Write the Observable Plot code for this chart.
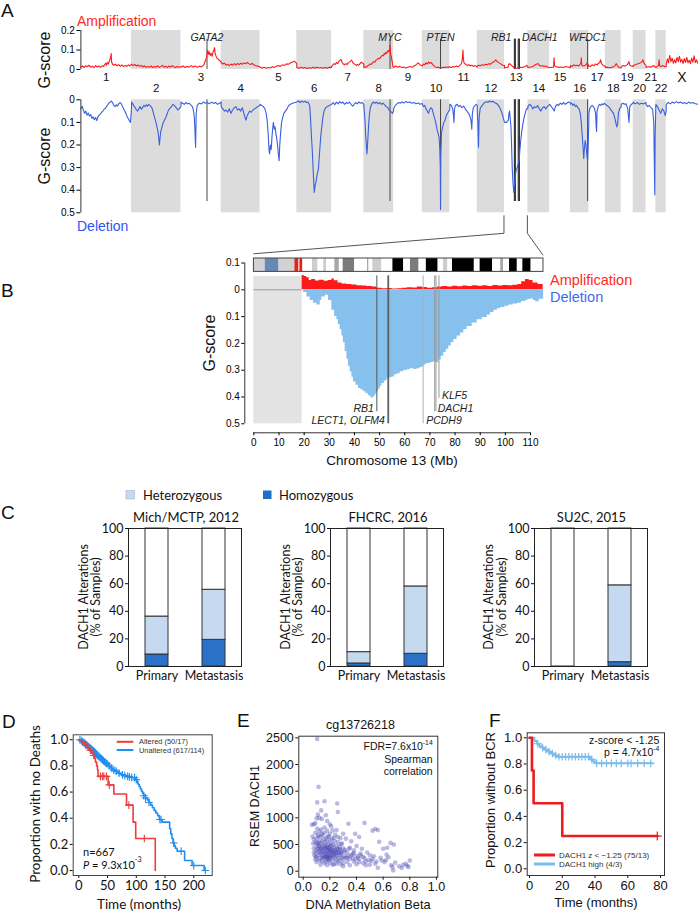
<!DOCTYPE html>
<html><head><meta charset="utf-8">
<script src="https://cdn.jsdelivr.net/npm/d3@7"></script>
<script src="https://cdn.jsdelivr.net/npm/@observablehq/plot@0.6"></script>
<style>
html,body{margin:0;padding:0;background:#fff;}
#fig{position:relative;width:698px;height:911px;overflow:hidden;background:#fff;}
</style></head><body><div id="fig"></div>
<script>
// ================= DATA =================
const chromNames = ["1","2","3","4","5","6","7","8","9","10","11","12","13","14","15","16","17","18","19","20","21","22","X"];
const chromLengths = [249.3,243.2,198.0,191.2,180.9,171.1,159.1,146.4,141.2,135.5,135.0,133.9,115.2,107.3,102.5,90.4,81.2,78.1,59.1,63.0,48.1,51.3,155.3];

// [chromosome, position within chromosome (Mb), G-score]
const ampPoints = [
["1",0,.012],["1",8,.018],["1",16,.01],["1",24,.02],["1",32,.014],["1",40,.022],["1",48,.012],["1",56,.017],["1",64,.01],["1",72,.02],["1",80,.013],["1",88,.018],["1",96,.011],["1",104,.019],["1",112,.016],["1",118,.026],["1",122,.032],["1",126,.022],["1",130,.036],["1",135,.028],["1",140,.042],["1",144,.055],["1",147,.07],["1",149,.082],["1",151,.04],["1",155,.028],["1",162,.022],["1",170,.027],["1",178,.019],["1",186,.025],["1",194,.016],["1",202,.024],["1",210,.015],["1",218,.021],["1",226,.017],["1",234,.023],["1",242,.018],["1",249,.026],
["2",0,.028],["2",8,.02],["2",16,.026],["2",24,.018],["2",32,.023],["2",40,.016],["2",48,.021],["2",56,.013],["2",64,.019],["2",72,.011],["2",80,.016],["2",88,.012],["2",96,.018],["2",104,.01],["2",112,.015],["2",120,.012],["2",128,.019],["2",136,.011],["2",144,.016],["2",152,.021],["2",160,.012],["2",168,.017],["2",176,.01],["2",184,.018],["2",192,.012],["2",200,.02],["2",208,.014],["2",216,.01],["2",224,.016],["2",232,.012],["2",243,.015],
["3",0,.012],["3",10,.018],["3",20,.01],["3",30,.016],["3",40,.012],["3",50,.02],["3",60,.013],["3",70,.018],["3",80,.011],["3",90,.017],["3",100,.013],["3",108,.02],["3",114,.026],["3",118,.04],["3",122,.05],["3",126,.062],["3",129,.085],["3",132,.1],["3",136,.078],["3",140,.09],["3",144,.072],["3",149,.082],["3",154,.068],["3",158,.09],["3",162,.1],["3",165,.112],["3",168,.085],["3",172,.07],["3",176,.06],["3",181,.055],["3",186,.05],["3",191,.045],["3",198,.04],
["4",0,.036],["4",8,.028],["4",16,.033],["4",24,.022],["4",32,.027],["4",40,.02],["4",48,.028],["4",56,.022],["4",64,.03],["4",72,.024],["4",80,.031],["4",88,.025],["4",96,.032],["4",104,.027],["4",112,.034],["4",120,.029],["4",128,.036],["4",136,.03],["4",144,.025],["4",152,.032],["4",160,.024],["4",168,.02],["4",176,.018],["4",184,.016],["4",191,.014],
["5",0,.012],["5",10,.007],["5",20,.011],["5",30,.006],["5",40,.01],["5",50,.008],["5",60,.014],["5",70,.011],["5",80,.017],["5",90,.02],["5",100,.016],["5",110,.024],["5",120,.021],["5",130,.029],["5",140,.027],["5",150,.034],["5",160,.038],["5",168,.042],["5",175,.037],["5",181,.03],
["6",0,.01],["6",10,.006],["6",20,.012],["6",30,.007],["6",40,.01],["6",50,.005],["6",60,.009],["6",70,.006],["6",80,.011],["6",90,.007],["6",100,.012],["6",110,.008],["6",120,.01],["6",130,.006],["6",140,.01],["6",150,.007],["6",160,.012],["6",171,.01],
["7",0,.015],["7",6,.022],["7",12,.03],["7",18,.026],["7",24,.036],["7",30,.03],["7",36,.042],["7",42,.048],["7",47,.052],["7",52,.036],["7",58,.028],["7",64,.024],["7",70,.03],["7",76,.026],["7",82,.034],["7",88,.038],["7",94,.044],["7",99,.048],["7",104,.036],["7",110,.03],["7",116,.026],["7",122,.02],["7",128,.026],["7",134,.022],["7",140,.03],["7",146,.038],["7",152,.032],["7",159,.028],
["8",0,.01],["8",6,.014],["8",12,.012],["8",18,.018],["8",24,.022],["8",30,.028],["8",36,.026],["8",42,.034],["8",48,.04],["8",54,.038],["8",60,.048],["8",66,.052],["8",72,.058],["8",78,.055],["8",84,.066],["8",90,.072],["8",96,.07],["8",100,.082],["8",104,.078],["8",108,.088],["8",112,.083],["8",116,.092],["8",120,.098],["8",124,.09],["8",127,.1],["8",128.7,.125],["8",130.5,.09],["8",133,.075],["8",136,.06],["8",140,.035],["8",143,.015],["8",146,.01],
["9",0,.01],["9",10,.018],["9",20,.012],["9",30,.016],["9",40,.01],["9",50,.013],["9",60,.008],["9",70,.012],["9",80,.015],["9",90,.011],["9",100,.018],["9",108,.022],["9",114,.028],["9",120,.034],["9",125,.03],["9",130,.025],["9",136,.02],["9",141,.018],
["10",0,.02],["10",6,.028],["10",12,.024],["10",18,.034],["10",24,.028],["10",30,.038],["10",36,.032],["10",42,.036],["10",48,.03],["10",54,.022],["10",60,.016],["10",66,.012],["10",72,.01],["10",78,.013],["10",84,.008],["10",90,.011],["10",96,.009],["10",104,.012],["10",112,.01],["10",120,.013],["10",128,.011],["10",135,.015],
["11",0,.012],["11",8,.01],["11",16,.015],["11",24,.012],["11",32,.018],["11",40,.014],["11",48,.02],["11",54,.026],["11",58,.032],["11",62,.06],["11",64.5,.1],["11",67,.05],["11",70,.034],["11",76,.028],["11",82,.024],["11",88,.02],["11",94,.025],["11",100,.018],["11",108,.022],["11",116,.016],["11",124,.02],["11",135,.013],
["12",0,.018],["12",8,.022],["12",16,.019],["12",24,.025],["12",32,.021],["12",40,.027],["12",48,.024],["12",56,.03],["12",64,.027],["12",72,.034],["12",80,.038],["12",86,.044],["12",91,.05],["12",96,.042],["12",102,.038],["12",108,.034],["12",114,.03],["12",120,.026],["12",126,.022],["12",134,.02],
["13",0,.008],["13",18,.012],["13",20,.025],["13",24,.03],["13",30,.026],["13",36,.02],["13",42,.014],["13",48,.008],["13",54,.005],["13",60,.006],["13",66,.009],["13",72,.008],["13",80,.011],["13",88,.01],["13",96,.013],["13",104,.015],["13",108,.022],["13",112,.018],["13",115,.014],
["14",0,.01],["14",20,.014],["14",28,.018],["14",36,.024],["14",44,.028],["14",50,.03],["14",56,.022],["14",64,.017],["14",72,.02],["14",80,.015],["14",88,.018],["14",96,.013],["14",107,.01],
["15",0,.01],["15",19,.012],["15",21.5,.06],["15",24,.02],["15",32,.014],["15",44,.011],["15",56,.013],["15",68,.01],["15",80,.015],["15",92,.012],["15",102,.01],
["16",0,.02],["16",8,.016],["16",16,.024],["16",24,.019],["16",32,.022],["16",40,.018],["16",47,.026],["16",51,.032],["16",53,.06],["16",55.5,.022],["16",62,.018],["16",70,.02],["16",77,.024],["16",82,.034],["16",85,.028],["16",90,.015],
["17",0,.02],["17",8,.015],["17",16,.024],["17",24,.019],["17",32,.028],["17",40,.024],["17",48,.032],["17",54,.036],["17",58,.05],["17",61,.034],["17",66,.026],["17",72,.02],["17",78,.017],["17",81,.015],
["18",0,.01],["18",10,.012],["18",20,.009],["18",30,.011],["18",40,.014],["18",48,.02],["18",54,.03],["18",58,.022],["18",64,.013],["18",70,.01],["18",78,.008],
["19",0,.015],["19",10,.02],["19",20,.018],["19",30,.025],["19",38,.04],["19",42,.022],["19",50,.018],["19",59,.015],
["20",0,.02],["20",10,.024],["20",20,.028],["20",30,.032],["20",38,.036],["20",44,.042],["20",48,.05],["20",52,.034],["20",58,.026],["20",63,.02],
["21",0,.01],["21",10,.014],["21",20,.012],["21",30,.016],["21",38,.02],["21",44,.014],["21",48,.012],
["22",0,.01],["22",8,.016],["22",13,.022],["22",16,.05],["22",19,.018],["22",26,.016],["22",34,.02],["22",42,.016],["22",51,.014],
["X",0,.03],["X",6,.055],["X",11,.035],["X",17,.072],["X",23,.04],["X",29,.058],["X",35,.032],["X",41,.05],["X",47,.034],["X",53,.062],["X",59,.04],["X",65,.068],["X",71,.038],["X",77,.052],["X",83,.03],["X",89,.056],["X",95,.036],["X",101,.062],["X",107,.034],["X",113,.048],["X",119,.03],["X",125,.058],["X",131,.038],["X",137,.07],["X",143,.036],["X",149,.05],["X",155,.032]
];

const delPoints = [
["1",0,.04],["1",6,.028],["1",12,.045],["1",18,.06],["1",24,.05],["1",30,.068],["1",36,.058],["1",42,.072],["1",48,.065],["1",54,.082],["1",60,.075],["1",66,.088],["1",72,.078],["1",78,.092],["1",84,.074],["1",90,.068],["1",96,.062],["1",102,.055],["1",108,.05],["1",114,.042],["1",120,.038],["1",126,.03],["1",132,.022],["1",138,.015],["1",144,.01],["1",150,.006],["1",156,.012],["1",162,.025],["1",168,.03],["1",174,.022],["1",180,.028],["1",186,.018],["1",192,.012],["1",198,.016],["1",204,.028],["1",210,.04],["1",216,.05],["1",222,.062],["1",228,.075],["1",234,.085],["1",240,.095],["1",244,.1],["1",249,.04],
["2",0,.01],["2",6,.018],["2",12,.028],["2",18,.035],["2",24,.045],["2",30,.05],["2",36,.04],["2",42,.03],["2",48,.042],["2",54,.035],["2",60,.025],["2",66,.03],["2",72,.022],["2",78,.028],["2",84,.02],["2",90,.025],["2",96,.03],["2",102,.04],["2",108,.06],["2",114,.08],["2",120,.1],["2",125,.12],["2",130,.14],["2",134,.17],["2",137,.2],["2",140,.17],["2",144,.14],["2",150,.12],["2",156,.1],["2",162,.09],["2",168,.08],["2",174,.065],["2",180,.05],["2",186,.04],["2",192,.035],["2",198,.028],["2",204,.02],["2",210,.025],["2",216,.03],["2",222,.038],["2",228,.045],["2",234,.04],["2",243,.03],
["3",0,.01],["3",8,.015],["3",16,.02],["3",24,.012],["3",32,.018],["3",40,.015],["3",48,.022],["3",56,.03],["3",62,.05],["3",66,.08],["3",69,.14],["3",72,.21],["3",75,.06],["3",80,.025],["3",90,.015],["3",100,.018],["3",110,.01],["3",120,.015],["3",130,.012],["3",140,.018],["3",150,.01],["3",160,.016],["3",170,.012],["3",180,.02],["3",190,.015],["3",198,.01],
["4",0,.03],["4",8,.04],["4",16,.05],["4",24,.045],["4",32,.055],["4",40,.04],["4",48,.06],["4",56,.045],["4",64,.035],["4",72,.03],["4",80,.045],["4",88,.04],["4",96,.05],["4",104,.035],["4",110,.055],["4",116,.075],["4",122,.09],["4",128,.07],["4",134,.06],["4",140,.05],["4",148,.055],["4",156,.045],["4",164,.04],["4",172,.035],["4",180,.03],["4",191,.025],
["5",0,.02],["5",8,.025],["5",16,.03],["5",24,.04],["5",30,.06],["5",35,.09],["5",40,.15],["5",44,.22],["5",47,.24],["5",51,.2],["5",55,.22],["5",59,.16],["5",63,.12],["5",66,.1],["5",70,.13],["5",74,.12],["5",78,.15],["5",82,.17],["5",86,.2],["5",90,.24],["5",94,.27],["5",97,.2],["5",101,.15],["5",106,.1],["5",111,.08],["5",117,.06],["5",125,.05],["5",133,.04],["5",141,.025],["5",150,.02],["5",160,.015],["5",170,.012],["5",181,.01],
["6",0,.01],["6",8,.005],["6",16,.012],["6",24,.006],["6",32,.01],["6",40,.006],["6",48,.012],["6",54,.01],["6",60,.018],["6",64,.03],["6",68,.09],["6",72,.16],["6",76,.22],["6",79,.28],["6",82,.34],["6",86,.41],["6",90,.38],["6",95,.36],["6",100,.33],["6",106,.31],["6",110,.26],["6",114,.21],["6",118,.16],["6",123,.12],["6",128,.08],["6",134,.05],["6",142,.035],["6",150,.03],["6",160,.025],["6",171,.02],
["7",0,.02],["7",8,.012],["7",16,.022],["7",24,.01],["7",32,.018],["7",40,.008],["7",48,.015],["7",56,.01],["7",64,.02],["7",72,.012],["7",80,.016],["7",88,.01],["7",96,.02],["7",104,.028],["7",110,.022],["7",118,.012],["7",126,.018],["7",134,.01],["7",142,.015],["7",150,.012],["7",159,.02],
["8",0,.03],["8",3,.06],["8",6,.1],["8",9,.16],["8",12,.2],["8",15,.24],["8",18,.2],["8",21,.15],["8",24,.1],["8",28,.06],["8",32,.035],["8",38,.02],["8",46,.01],["8",54,.015],["8",62,.01],["8",70,.018],["8",78,.012],["8",86,.02],["8",94,.015],["8",102,.022],["8",110,.03],["8",118,.035],["8",124,.045],["8",130,.05],["8",136,.055],["8",141,.06],["8",146,.05],
["9",0,.04],["9",8,.025],["9",16,.018],["9",24,.012],["9",32,.015],["9",40,.01],["9",50,.014],["9",60,.008],["9",70,.012],["9",80,.01],["9",90,.015],["9",100,.012],["9",110,.018],["9",120,.014],["9",130,.02],["9",141,.016],
["10",0,.02],["10",6,.03],["10",12,.025],["10",18,.04],["10",24,.05],["10",30,.06],["10",36,.045],["10",42,.035],["10",48,.04],["10",54,.06],["10",60,.08],["10",66,.1],["10",72,.13],["10",78,.15],["10",83,.17],["10",86,.22],["10",88.5,.3],["10",89.7,.485],["10",91,.25],["10",94,.15],["10",100,.12],["10",106,.1],["10",112,.09],["10",118,.07],["10",124,.06],["10",130,.05],["10",135,.045],
["11",0,.02],["11",8,.025],["11",14,.04],["11",18,.07],["11",20,.1],["11",23,.04],["11",28,.025],["11",36,.02],["11",44,.03],["11",52,.025],["11",60,.035],["11",68,.028],["11",76,.04],["11",84,.05],["11",92,.06],["11",98,.07],["11",104,.09],["11",108,.13],["11",111,.06],["11",116,.035],["11",124,.025],["11",130,.02],["11",135,.025],
["12",0,.05],["12",3,.1],["12",6,.21],["12",9,.08],["12",14,.04],["12",20,.03],["12",28,.02],["12",36,.012],["12",44,.008],["12",52,.012],["12",60,.005],["12",68,.01],["12",76,.006],["12",84,.012],["12",92,.015],["12",100,.02],["12",108,.03],["12",116,.045],["12",122,.06],["12",128,.08],["12",134,.1],
["13",0,.1],["13",10,.1],["13",19,.09],["13",22,.06],["13",25,.05],["13",28,.08],["13",32,.12],["13",35,.2],["13",38,.3],["13",42,.37],["13",46,.41],["13",50,.37],["13",54,.33],["13",58,.31],["13",63,.3],["13",68,.28],["13",72,.27],["13",76,.22],["13",80,.18],["13",85,.14],["13",90,.11],["13",96,.08],["13",102,.06],["13",108,.04],["13",115,.04],
["14",0,.03],["14",8,.02],["14",16,.025],["14",24,.04],["14",32,.03],["14",40,.035],["14",48,.025],["14",56,.04],["14",64,.05],["14",72,.035],["14",80,.03],["14",88,.04],["14",96,.03],["14",107,.02],
["15",0,.02],["15",8,.03],["15",16,.04],["15",22,.05],["15",28,.03],["15",36,.02],["15",44,.025],["15",52,.015],["15",60,.02],["15",68,.012],["15",76,.02],["15",84,.015],["15",92,.01],["15",102,.012],
["16",0,.02],["16",6,.015],["16",12,.025],["16",18,.018],["16",24,.03],["16",30,.025],["16",36,.035],["16",42,.04],["16",48,.06],["16",53,.1],["16",57,.15],["16",61,.2],["16",65,.26],["16",68,.22],["16",72,.18],["16",76,.2],["16",80,.24],["16",84,.27],["16",87,.2],["16",90,.1],
["17",0,.06],["17",4,.04],["17",10,.03],["17",16,.025],["17",22,.03],["17",28,.04],["17",33,.06],["17",36,.12],["17",38,.14],["17",40,.05],["17",46,.03],["17",52,.02],["17",58,.025],["17",64,.018],["17",70,.022],["17",76,.015],["17",81,.02],
["18",0,.02],["18",8,.025],["18",16,.03],["18",24,.04],["18",32,.05],["18",40,.06],["18",46,.08],["18",51,.1],["18",56,.12],["18",60,.11],["18",64,.06],["18",70,.04],["18",78,.03],
["19",0,.02],["19",8,.015],["19",16,.02],["19",24,.018],["19",32,.04],["19",38,.1],["19",42,.03],["19",50,.02],["19",59,.015],
["20",0,.01],["20",10,.018],["20",20,.012],["20",30,.02],["20",40,.015],["20",50,.018],["20",63,.012],
["21",0,.02],["21",8,.03],["21",16,.025],["21",24,.035],["21",32,.04],["21",38,.1],["21",41,.3],["21",43,.42],["21",45,.15],["21",48,.03],
["22",0,.02],["22",8,.03],["22",16,.045],["22",24,.06],["22",32,.04],["22",40,.05],["22",46,.07],["22",51,.05],
["X",0,.02],["X",10,.012],["X",20,.018],["X",30,.01],["X",40,.015],["X",50,.008],["X",60,.014],["X",70,.01],["X",80,.016],["X",90,.012],["X",100,.018],["X",110,.01],["X",120,.015],["X",130,.012],["X",140,.016],["X",155,.02]
];

// Marked genes, panel A
const aGeneNames = ["GATA2","MYC","PTEN","RB1","DACH1","WFDC1"];
const aGeneChrom = ["3","8","10","13","13","16"];
const aGenePos = [128.2,128.7,89.6,48.9,71.9,84.3];

// Panel B: chromosome 13
const bAmpPos = [19.2,20,21,22,23,24.5,26,28,29.5,31,32,33.5,35,37,39,41,43,45,47,49,51,53,55,57,59,61,63,65,67,69,71,73,75,77,79,81,83,85,87,89,91,93,95,97,99,101,103,105,106.5,108,109.5,111,113,115];
const bAmpG =   [.053,.05,.045,.035,.038,.033,.036,.032,.035,.04,.034,.025,.022,.02,.018,.015,.014,.012,.01,.006,.004,.005,.003,.004,.006,.008,.007,.01,.009,.006,.008,.01,.012,.01,.013,.011,.014,.012,.015,.013,.015,.012,.016,.014,.016,.015,.017,.02,.03,.038,.035,.025,.02,.018];
const bDelPos = [19.2,19.8,21.1,22.4,23.7,25.1,26.4,27.0,28.4,29.7,31.0,32.1,33.0,33.6,34.3,35.0,35.6,36.3,37.0,37.6,38.3,39.0,39.6,40.6,41.6,42.6,43.6,44.6,45.6,46.3,46.9,47.6,48.3,49.0,49.6,50.3,50.9,51.9,52.9,53.9,54.9,55.9,56.9,58.2,59.6,60.9,62.2,63.6,64.9,66.1,67.3,68.1,68.9,70.3,71.6,72.5,73.5,74.5,75.5,76.5,77.5,78.5,79.5,80.8,82.2,83.5,84.8,86.8,88.8,90.8,92.8,94.1,95.5,96.8,98.1,99.8,101.4,103.1,104.8,106.4,108.1,109.1,110.1,111.1,112.1,113.5,115.2];
const bDelG =   [0,.01,.027,.04,.05,.057,.04,.027,.02,.04,.076,.1,.112,.13,.149,.172,.198,.23,.259,.285,.307,.326,.344,.356,.368,.374,.38,.388,.395,.4,.405,.398,.39,.38,.37,.36,.35,.34,.332,.328,.325,.318,.313,.306,.301,.298,.295,.297,.295,.29,.283,.278,.275,.271,.268,.272,.262,.248,.234,.222,.21,.197,.185,.172,.161,.148,.137,.124,.112,.103,.094,.085,.076,.071,.066,.061,.057,.053,.05,.044,.039,.036,.033,.04,.045,.035,.04];
const bUnassessed = [0, 19.2];
const bGeneNames = ["RB1","LECT1, OLFM4","PCDH9","DACH1","KLF5"];
const bGenePos = [48.9,53.3,67.3,71.9,73.6];
const bGeneDepth = [0.455,0.5,0.5,0.455,0.405];
const bExtraLinePos = [53.6,72.4];     // OLFM4, second DACH1 line
const bExtraLineDepth = [0.5,0.455];
// chr13 cytobands (Mb)
const bandStart = [0,4.5,10,16.3,17.9,19.5,23.3,25.5,27.8,28.9,32.2,34,35.5,40.1,45.2,45.8,47.3,50.9,55.3,59.6,62.3,65.7,68.6,73.3,75.4,77.2,79,87.7,90,95,98.2,99.3,101.7,104.8,107,110.3];
const bandEnd =   [4.5,10,16.3,17.9,19.5,23.3,25.5,27.8,28.9,32.2,34,35.5,40.1,45.2,45.8,47.3,50.9,55.3,59.6,62.3,65.7,68.6,73.3,75.4,77.2,79,87.7,90,95,98.2,99.3,101.7,104.8,107,110.3,115.2];
const bandStain = ["gvar","stalk","gvar","acen","acen","gneg","gpos25","gneg","gpos25","gneg","gpos50","gneg","gpos75","gneg","gpos50","gneg","gpos25","gneg","gpos100","gneg","gpos75","gneg","gpos100","gneg","gpos25","gneg","gpos100","gneg","gpos100","gneg","gpos50","gneg","gpos100","gneg","gpos100","gneg"];

// Panel C
const cStudies = ["Mich/MCTP, 2012","FHCRC, 2016","SU2C, 2015"];
const cGroups = ["Primary","Metastasis"];
const cHomozygous = [[8.7,19.3],[2.2,9.2],[0,3.1]];
const cAnyLoss = [[36.2,55.6],[10.4,58.0],[0,58.8]];
const cParts = ["Homozygous","Heterozygous","Not altered"];

// Panel D: Kaplan-Meier, overall survival
const dAltTime = [0,5,10,15,18,22,25,27,29,31,32.5,33.5,51,61,83,94.5,99,133];
const dAltSurv = [1,.98,.96,.94,.92,.9,.88,.86,.83,.8,.77,.72,.655,.585,.5,.37,.245,0];
const dAltCensor = [12,20,26,37.7,41,43.5,48,53,87,114];
const dUnaltTime = [0,3,6,8,10,12,14,16,18,20,22,24,26,28,30,32,34,36,38,40,42,44,46,48,50,52,54,56,58,60,63,66,69,72,75,78,82,86,90,96,99,101,103,105,107,109,111,113,116,119,122,125,128,131,134,137,140,145,158,160,162,164,166,168,171,184,197,218];
const dUnaltSurv = [1,.993,.985,.978,.97,.962,.955,.947,.94,.932,.924,.916,.907,.898,.889,.88,.872,.864,.856,.848,.84,.832,.824,.816,.808,.8,.792,.784,.776,.768,.76,.752,.745,.738,.732,.726,.72,.716,.712,.71,.695,.678,.66,.643,.625,.607,.59,.572,.555,.54,.52,.5,.48,.46,.44,.42,.39,.37,.32,.28,.245,.21,.19,.17,.148,.077,.038,0];
const dUnaltCensor = [2,5,7,9,11,13,15,17,19,21,23,25,27,29,31,33,35,37,39,41,43,45,47,49,53,57,61,65,70,76,80,85,88,92,97,100,113,116,122,141,143,165,178,200,220];

// Panel E: methylation vs expression
const eBeta = [0.105,0.115,0.105,0.16,0.255,0.26,0.135,0.12,0.1,0.14,0.11,0.17,0.08,0.065,0.09,0.18,0.2,0.34,0.46,0.54,0.52,0.56,0.39,0.42,0.655,0.68,0.63,0.57,0.6,0.625,0.59,0.56,0.67,0.675,0.75,0.79,0.8,0.77,0.61,0.5,0.52,0.48,0.45,0.44,0.47,0.43,0.4,0.38,0.41,0.36,0.37,0.35,0.33,0.32,0.31,0.3,0.29,0.3,
0.07,0.075,0.08,0.08,0.085,0.09,0.09,0.095,0.1,0.1,0.1,0.105,0.105,0.11,0.11,0.11,0.115,0.12,0.12,0.12,0.125,0.125,0.13,0.13,0.13,0.135,0.135,0.14,0.14,0.14,0.145,0.145,0.15,0.15,0.15,0.155,0.155,0.16,0.16,0.16,0.165,0.165,0.17,0.17,0.17,0.175,0.175,0.18,0.18,0.18,0.185,0.185,0.19,0.19,0.19,0.195,0.195,0.2,0.2,0.2,0.205,0.205,0.21,0.21,0.215,0.215,0.22,0.22,0.225,0.225,0.23,0.23,0.235,0.235,0.24,0.24,0.245,0.25,0.25,0.255,0.26,0.26,0.265,0.27,0.27,0.275,0.28,0.28,0.285,0.29,0.29,0.3,0.3,0.31,0.315,0.32,0.33,0.34,0.345,0.35,0.36,0.37,0.38,0.39,0.4,0.42,0.43,0.46,0.49,0.53,0.55,0.58,0.62,0.64,0.66,0.69,0.72,0.74,0.78,0.5,0.45,0.4,0.35,0.3,0.28,0.25,0.22,0.2,0.18,0.16,0.14,0.12,0.1,0.09,0.13,0.17,0.23,0.26,0.33,0.38,0.42,0.47,0.51,0.54,
0.08,0.095,0.115,0.14,0.16,0.18,0.2,0.22,0.24,0.26,0.28,0.25,0.21,0.23,0.185,0.165,0.175,0.195,0.205,0.215,0.225,0.235,0.245,0.255,0.265,0.275,0.285,0.155,0.145,0.135,0.125,0.115,0.105,0.19,0.2,0.17,0.18,0.21,0.19];
const eRsem = [2480,1580,1290,1310,1270,1110,1140,1000,990,980,1060,1050,880,870,900,940,880,890,905,790,760,770,700,640,530,500,440,550,420,310,200,65,80,15,120,80,200,140,170,300,230,350,270,420,180,330,470,390,250,560,320,440,250,610,370,700,520,150,
650,520,600,430,300,720,540,380,460,610,250,800,350,520,680,420,300,560,750,380,470,240,640,330,520,410,780,290,560,450,360,680,500,250,420,600,330,470,380,720,280,540,430,350,620,220,480,390,300,560,450,260,660,340,500,410,200,580,300,450,370,240,520,330,430,610,280,390,500,200,340,450,260,560,410,310,220,480,360,290,420,550,250,340,460,200,390,300,510,250,360,430,230,290,400,250,350,290,420,230,300,250,340,220,290,230,300,240,210,280,180,250,210,260,110,160,90,60,100,120,150,130,110,90,130,140,120,160,110,150,180,200,170,220,120,180,130,180,170,180,170,110,190,140,
350,280,650,700,820,760,700,760,680,640,620,770,840,620,640,430,330,280,480,370,310,380,330,400,350,420,330,270,240,350,420,470,530,420,380,270,240,260,230];

// Panel F: Kaplan-Meier, BCR-free survival
const fLowTime = [0,1.5,2.5,20,78];
const fLowSurv = [1,.75,.5,.25,.25];
const fLowCensor = [78];
const fHighTime = [0,1.6,3,4.5,6,7.5,9,11,13,15,17,37,38.5,40,75];
const fHighSurv = [1,1,.975,.955,.94,.925,.91,.895,.88,.865,.855,.835,.82,.805,.805];
const fHighCensor = [5,8,10,12,14,16,18,20,22,24,26,28,30,32,34,36,38,41,44,47,50,53,56,60,62,66,70,74];

// ================= BUILD =================
const fig = document.getElementById("fig");
const SANS = "'Liberation Sans', Arial, Helvetica, sans-serif";
const LATO = "Lato, 'Open Sans', sans-serif";
function place(el, left, top) {
  el.style.position = "absolute"; el.style.left = left + "px"; el.style.top = top + "px";
  el.style.maxWidth = "none"; el.style.overflow = "visible"; el.style.background = "transparent";
  fig.appendChild(el); return el;
}
const fmt1 = d => d === 0 ? "0" : d3.format(".1f")(Math.abs(d));

// genome coordinates
const chromStart = {}; let acc = 0;
chromNames.forEach((n, i) => { chromStart[n] = acc; acc += chromLengths[i]; });
const genomeLength = acc;
const chroms = chromNames.map((n, i) => ({name: n, start: chromStart[n], end: chromStart[n] + chromLengths[i], mid: chromStart[n] + chromLengths[i] / 2, idx: i}));
const shaded = chroms.filter(d => d.idx % 2 === 1);
const ampSeries = ampPoints.map(([c, p, v]) => ({g: chromStart[c] + p, v}));
const delSeries = delPoints.map(([c, p, v]) => ({g: chromStart[c] + p, v}));
const aGenes = aGeneNames.map((n, i) => ({name: n, g: chromStart[aGeneChrom[i]] + aGenePos[i]}));
const aLines = aGenes.map(d => d.g).concat(bGenePos.concat(bExtraLinePos).map(p => chromStart["13"] + p));

// ---- Panel A: amplification ----
const ampTop = 0;
const ampPlot = Plot.plot({
  width: 698, height: 100, marginLeft: 80.4, marginRight: 0.7, marginTop: 30, marginBottom: 31,
  x: {domain: [0, genomeLength], axis: null},
  y: {domain: [0, 0.2], axis: null},
  style: {fontFamily: SANS, fontSize: "10px", background: "transparent", overflow: "visible"},
  marks: [
    Plot.rect(shaded, {x1: "start", x2: "end", y1: 0, y2: 0.2, fill: "#dcdcdc"}),
    Plot.ruleX(aLines, {x: d => d, y1: 0, y2: 0.155, stroke: "#333", strokeWidth: 0.9}),
    Plot.line(ampSeries, {x: "g", y: "v", stroke: "#ff1a1a", strokeWidth: 1.1}),
    Plot.ruleX([0], {y1: 0, y2: 0.2, stroke: "#333"}),
    Plot.axisY({anchor: "left", ticks: [0, 0.1, 0.2], tickFormat: fmt1, tickSize: 4, tickPadding: 2, label: null, fontSize: 10}),
    Plot.text(aGenes.filter(d => d.name !== "RB1" && d.name !== "DACH1"), {x: "g", text: "name", frameAnchor: "top", dy: 3.5, fontStyle: "italic", fontSize: 10.5, fill: "#222"}),
    Plot.text(aGenes.filter(d => d.name === "RB1"), {x: "g", text: "name", frameAnchor: "top", dy: 3.5, dx: -3, textAnchor: "end", fontStyle: "italic", fontSize: 10.5, fill: "#222"}),
    Plot.text(aGenes.filter(d => d.name === "DACH1"), {x: "g", text: "name", frameAnchor: "top", dy: 3.5, dx: 3, textAnchor: "start", fontStyle: "italic", fontSize: 10.5, fill: "#222"}),
    Plot.text(chroms.filter(d => d.idx % 2 === 0 && d.name !== "X"), {x: "mid", text: "name", frameAnchor: "bottom", dy: 11, fontSize: 11.5, fill: "#111"}),
    Plot.text(chroms.filter(d => d.idx % 2 === 1), {x: "mid", text: "name", frameAnchor: "bottom", dy: 22, fontSize: 11.5, fill: "#111"}),
    Plot.text(chroms.filter(d => d.name === "X"), {x: "mid", text: "name", frameAnchor: "bottom", dy: 12, fontSize: 14, fill: "#111"})
  ]
});
place(ampPlot, 0, ampTop);

// ---- Panel A: deletion ----
const delTop = 95;
const delPlot = Plot.plot({
  width: 698, height: 125, marginLeft: 80.4, marginRight: 0.7, marginTop: 4.3, marginBottom: 7.7,
  x: {domain: [0, genomeLength], axis: null},
  y: {domain: [0, 0.5], reverse: true, axis: null},
  style: {fontFamily: SANS, fontSize: "10px", background: "transparent", overflow: "visible"},
  marks: [
    Plot.rect(shaded, {x1: "start", x2: "end", y1: 0, y2: 0.5, fill: "#dcdcdc"}),
    Plot.ruleX(aLines, {x: d => d, y1: 0, y2: 0.45, stroke: "#333", strokeWidth: 0.9}),
    Plot.line(delSeries, {x: "g", y: "v", stroke: "#3a5fe0", strokeWidth: 1.1}),
    Plot.ruleX([0], {y1: 0, y2: 0.5, stroke: "#333"}),
    Plot.axisY({anchor: "left", ticks: [0, 0.1, 0.2, 0.3, 0.4, 0.5], tickFormat: fmt1, tickSize: 4, tickPadding: 2, label: null, fontSize: 10})
  ]
});
place(delPlot, 0, delTop);

// ---- Panel B ----
const bTop = 240;
const bXMin = -3.6, bYMin = -0.5336;
const bAmp = bAmpPos.map((x, i) => ({x, v: bAmpG[i]}));
const bDel = bDelPos.map((x, i) => ({x, v: -bDelG[i]}));
const bGenes = bGeneNames.map((n, i) => ({name: n, x: bGenePos[i], bottom: -bGeneDepth[i]}));
const bLines = bGenes.map(d => ({x: d.x, bottom: d.bottom, name: d.name}))
  .concat(bExtraLinePos.map((x, i) => ({x, bottom: -bExtraLineDepth[i], name: i === 0 ? "LECT1, OLFM4" : "DACH1"})));
const darkGenes = new Set(["RB1", "LECT1, OLFM4"]);
const bPlot = Plot.plot({
  width: 698, height: 230, marginLeft: 244.3, marginRight: 155.4, marginTop: 22.5, marginBottom: 37.7,
  x: {domain: [bXMin, 115], axis: null},
  y: {domain: [bYMin, 0.1], axis: null},
  style: {fontFamily: SANS, fontSize: "10px", background: "transparent", overflow: "visible"},
  marks: [
    Plot.rect([bUnassessed], {x1: d => d[0], x2: d => d[1], y1: -0.5, y2: 0.05, fill: "#e3e3e3"}),
    Plot.ruleY([0], {x1: bUnassessed[0], x2: bUnassessed[1], stroke: "#9a9a9a"}),
    Plot.areaY(bAmp, {x: "x", y: "v", curve: "step-after", fill: "#ff1a1a"}),
    Plot.areaY(bDel, {x: "x", y: "v", curve: "step-after", fill: "#86c1ee"}),
    Plot.ruleX(bLines.filter(d => darkGenes.has(d.name)), {x: "x", y1: "bottom", y2: 0.052, stroke: "#555", strokeWidth: 1}),
    Plot.ruleX(bLines.filter(d => d.name === "PCDH9"), {x: "x", y1: "bottom", y2: 0.052, stroke: "#b0b0b0", strokeWidth: 1}),
    Plot.ruleX(bLines.filter(d => d.name === "DACH1" || d.name === "KLF5"), {x: "x", y1: "bottom", y2: 0.052, stroke: "#9a9a9a", strokeWidth: 1}),
    Plot.text(bGenes.filter(d => darkGenes.has(d.name)), {x: "x", y: "bottom", text: "name", dx: -3, dy: -3, textAnchor: "end", fontStyle: "italic", fontSize: 10.5, fill: "#222"}),
    Plot.text(bGenes.filter(d => !darkGenes.has(d.name)), {x: "x", y: "bottom", text: "name", dx: 3, dy: -3, textAnchor: "start", fontStyle: "italic", fontSize: 10.5, fill: "#222"}),
    Plot.ruleX([bXMin], {y1: -0.5, y2: 0.1, stroke: "#333"}),
    Plot.ruleY([bYMin], {x1: 0, x2: 110, stroke: "#333"}),
    Plot.axisY({anchor: "left", ticks: [0.1, 0, -0.1, -0.2, -0.3, -0.4, -0.5], tickFormat: fmt1, tickSize: 3, tickPadding: 2, label: null, fontSize: 10}),
    Plot.axisX({anchor: "bottom", ticks: d3.range(0, 111, 10), tickSize: 3, tickPadding: 3, label: null, fontSize: 10})
  ]
});
place(bPlot, 0, bTop);

const ideoTop = 258.3;
const bands = bandStart.map((s, i) => ({s, e: bandEnd[i], stain: bandStain[i]}));
const ideoPlot = Plot.plot({
  width: 698, height: 13.4, marginLeft: 244.3, marginRight: 155.4, marginTop: 0, marginBottom: 0,
  x: {domain: [bXMin, 115], axis: null},
  color: {domain: ["gneg","gpos25","gpos50","gpos75","gpos100","gvar","stalk","acen"], range: ["#ffffff","#cdcdcd","#a8a8a8","#7c7c7c","#000000","#d2d2d2","#6a87b6","#d9281f"]},
  style: {background: "transparent", overflow: "visible"},
  marks: [
    Plot.rect(bands, {x1: "s", x2: "e", fill: "stain"}),
    Plot.ruleX([17.9], {stroke: "#fff", strokeWidth: 1}),
    Plot.rect([[0, 115.2]], {x1: d => d[0], x2: d => d[1], fill: "none", stroke: "#444", strokeWidth: 1})
  ]
});
place(ideoPlot, 0, ideoTop);

// ---- Panel C ----
const cColor = {domain: cParts, range: ["#2a71c8", "#c5d9f1", "#ffffff"]};
const cTop = 505, cLefts = [0, 202, 405.5];
const cPlots = cStudies.map((study, i) => {
  const rows = [];
  cGroups.forEach((g, j) => {
    const h = cHomozygous[i][j], a = cAnyLoss[i][j];
    rows.push({group: g, part: cParts[0], y1: 0, y2: h});
    rows.push({group: g, part: cParts[1], y1: h, y2: a});
    rows.push({group: g, part: cParts[2], y1: a, y2: 100});
  });
  const p = Plot.plot({
    width: 245, height: 190, marginLeft: 128, marginRight: 4, marginTop: 23, marginBottom: 29,
    x: {domain: cGroups, paddingInner: 0.6, paddingOuter: 0.28, tickSize: 0, tickPadding: 5, label: null},
    y: {domain: [0, 100], ticks: [0, 20, 40, 60, 80, 100], tickSize: 3, tickPadding: 2, label: null},
    color: cColor,
    style: {fontFamily: LATO, fontSize: "12.5px", color: "#111", background: "transparent", overflow: "visible"},
    marks: [
      Plot.barY(rows, {x: "group", y1: "y1", y2: "y2", fill: "part", stroke: "#333", strokeWidth: 1}),
      Plot.frame({stroke: "#222"})
    ]
  });
  place(p, cLefts[i], cTop);
  return p;
});

// ---- Panel D ----
const stepAt = (times, surv) => t => { let s = surv[0]; for (let k = 0; k < times.length; k++) if (times[k] <= t) s = surv[k]; return s; };
const dAlt = dAltTime.map((t, i) => ({t, s: dAltSurv[i]}));
const dUnalt = dUnaltTime.map((t, i) => ({t, s: dUnaltSurv[i]}));
const dAltC = dAltCensor.map(t => ({t, s: stepAt(dAltTime, dAltSurv)(t)}));
const dUnaltC = dUnaltCensor.map(t => ({t, s: stepAt(dUnaltTime, dUnaltSurv)(t)}));
const D_RED = "#f23b3b", D_BLUE = "#1f8ef1";
const dPlot = Plot.plot({
  width: 233, height: 186, marginLeft: 72.7, marginRight: 21.3, marginTop: 9.3, marginBottom: 36,
  x: {domain: [-9.7, 232], ticks: [0, 50, 100, 150, 200], tickSize: 3, tickPadding: 2, label: null},
  y: {domain: [-0.038, 1.038], ticks: [0, .2, .4, .6, .8, 1], tickFormat: ".1f", tickSize: 3, tickPadding: 2, label: null},
  style: {fontFamily: LATO, fontSize: "13px", color: "#111", background: "transparent", overflow: "visible"},
  marks: [
    Plot.frame({stroke: "#444"}),
    Plot.line(dUnalt, {x: "t", y: "s", curve: "step-after", stroke: D_BLUE, strokeWidth: 1.6}),
    Plot.dot(dUnaltC, {x: "t", y: "s", symbol: "plus", r: 2.6, stroke: D_BLUE, strokeWidth: 1.1}),
    Plot.line(dAlt, {x: "t", y: "s", curve: "step-after", stroke: D_RED, strokeWidth: 1.6}),
    Plot.dot(dAltC, {x: "t", y: "s", symbol: "plus", r: 2.6, stroke: D_RED, strokeWidth: 1.1})
  ]
});
place(dPlot, 0, 725);

// ---- Panel E ----
const ePts = eBeta.map((b, i) => ({b, r: eRsem[i]}));
const ePlot = Plot.plot({
  width: 233, height: 186, marginLeft: 65.3, marginRight: 28.7, marginTop: 10.7, marginBottom: 34.3,
  x: {domain: [-0.033, 1.0098], ticks: [0, .2, .4, .6, .8, 1], tickFormat: ".1f", tickSize: 3, tickPadding: 2, label: null},
  y: {domain: [-113, 2531], ticks: [0, 500, 1000, 1500, 2000, 2500], tickFormat: "d", tickSize: 3, tickPadding: 2, label: null},
  style: {fontFamily: SANS, fontSize: "12.5px", color: "#111", background: "transparent", overflow: "visible"},
  marks: [
    Plot.frame({stroke: "#333"}),
    Plot.dot(ePts, {x: "b", y: "r", r: 2.3, fill: "#4646b2", fillOpacity: 0.38, stroke: "none"})
  ]
});
place(ePlot, 233, 725);

// ---- Panel F ----
const fLow = fLowTime.map((t, i) => ({t, s: fLowSurv[i]}));
const fHigh = fHighTime.map((t, i) => ({t, s: fHighSurv[i]}));
const fLowC = fLowCensor.map(t => ({t, s: stepAt(fLowTime, fLowSurv)(t)}));
const fHighC = fHighCensor.map(t => ({t, s: stepAt(fHighTime, fHighSurv)(t)}));
const F_RED = "#ee1c1c", F_BLUE = "#7cbcec";
const fPlot = Plot.plot({
  width: 232, height: 186, marginLeft: 60.7, marginRight: 34, marginTop: 7.3, marginBottom: 36,
  x: {domain: [-1.4, 82.4], ticks: [0, 20, 40, 60, 80], tickSize: 3, tickPadding: 2, label: null},
  y: {domain: [-0.051, 1.038], ticks: [0, .2, .4, .6, .8, 1], tickFormat: ".1f", tickSize: 3, tickPadding: 2, label: null},
  style: {fontFamily: SANS, fontSize: "13px", color: "#111", background: "transparent", overflow: "visible"},
  marks: [
    Plot.frame({stroke: "#333"}),
    Plot.line(fHigh, {x: "t", y: "s", curve: "step-after", stroke: F_BLUE, strokeWidth: 2}),
    Plot.dot(fHighC, {x: "t", y: "s", symbol: "plus", r: 2.6, stroke: F_BLUE, strokeWidth: 1.2}),
    Plot.line(fLow, {x: "t", y: "s", curve: "step-after", stroke: F_RED, strokeWidth: 2.6}),
    Plot.dot(fLowC, {x: "t", y: "s", symbol: "plus", r: 3, stroke: F_RED, strokeWidth: 1.2})
  ]
});
place(fPlot, 466, 725);

// ================= OVERLAY: labels, legends, connectors =================
const ov = d3.select(fig).append("svg").attr("width", 698).attr("height", 911)
  .style("position", "absolute").style("left", "0px").style("top", "0px").style("overflow", "visible");
function T(x, y, str, o = {}) {
  const t = ov.append("text").attr("x", x).attr("y", y).attr("dominant-baseline", "central")
    .attr("font-family", o.font || SANS).attr("font-size", o.size || 12).attr("fill", o.color || "#111")
    .attr("text-anchor", o.anchor || "start");
  if (o.rotate) t.attr("transform", `rotate(-90 ${x} ${y})`);
  if (o.italic) t.attr("font-style", "italic");
  if (str !== null) t.text(str);
  return t;
}
function sup(t, base, exp, size) {
  t.append("tspan").text(base);
  t.append("tspan").attr("baseline-shift", "super").attr("font-size", size * 0.65).text(exp);
  return t;
}

// connectors between panel A chr13 and panel B ideogram
const xA = delPlot.scale("x"), yA = delPlot.scale("y"), xI = ideoPlot.scale("x");
const c13s = xA.apply(chromStart["13"]), c13e = xA.apply(chromStart["13"] + chromLengths[12]);
const yBot = delTop + yA.apply(0.5);
const line = d3.line();
ov.append("path").attr("d", line([[c13s, yBot + 3], [c13s, yBot + 21], [xI.apply(0), ideoTop - 4.5]])).attr("fill", "none").attr("stroke", "#555").attr("stroke-width", 1);
ov.append("path").attr("d", line([[c13e, yBot + 3], [c13e, yBot + 21], [xI.apply(115.2), ideoTop - 3]])).attr("fill", "none").attr("stroke", "#555").attr("stroke-width", 1);

// panel letters
T(1, 10, "A", {size: 19});
T(1, 290, "B", {size: 19});
T(1, 512, "C", {size: 19});
T(2, 721, "D", {size: 19});
T(237, 720, "E", {size: 19});
T(489, 720, "F", {size: 19});

// panel A texts
T(77, 21, "Amplification", {size: 14, color: "#ff2a1a"});
T(77, 226, "Deletion", {size: 14, color: "#2f55f0"});
T(44, 60, "G-score", {size: 16, anchor: "middle", rotate: true});
T(44, 156, "G-score", {size: 16, anchor: "middle", rotate: true});

// panel B texts
T(550, 279.5, "Amplification", {size: 14.5, color: "#ff2a1a"});
T(550, 296.5, "Deletion", {size: 14.5, color: "#3a6cf4"});
T(209, 343, "G-score", {size: 16, anchor: "middle", rotate: true});
T(392, 460, "Chromosome 13 (Mb)", {size: 13.5, anchor: "middle"});

// panel C legend, titles, axis labels
ov.append("rect").attr("x", 126).attr("y", 490.5).attr("width", 8.5).attr("height", 8.5).attr("fill", "#c5d9f1").attr("stroke", "#9fb6d6").attr("stroke-width", 0.6);
T(143, 494.5, "Heterozygous", {font: LATO, size: 13});
ov.append("rect").attr("x", 263).attr("y", 490.5).attr("width", 8.5).attr("height", 8.5).attr("fill", "#1f6fc8");
T(279, 494.5, "Homozygous", {font: LATO, size: 13});
cStudies.forEach((s, i) => {
  const L = cLefts[i] + 128, R = cLefts[i] + 241;
  T((L + R) / 2 + 1.5, 517, s, {font: LATO, size: 13, anchor: "middle"});
  T(L - 45, 597, "DACH1 Alterations", {font: LATO, size: 12.5, anchor: "middle", rotate: true});
  T(L - 32.5, 597, "(% of Samples)", {font: LATO, size: 12.5, anchor: "middle", rotate: true});
});

// panel D texts
T(35, 804, "Proportion with no Deaths", {font: LATO, size: 13.5, anchor: "middle", rotate: true});
T(139, 904, "Time (months)", {font: LATO, size: 13.5, anchor: "middle"});
ov.append("line").attr("x1", 116.7).attr("x2", 133.3).attr("y1", 741.8).attr("y2", 741.8).attr("stroke", D_RED).attr("stroke-width", 2);
T(139, 741.8, "Altered (50/17)", {size: 7.4, color: "#333"});
ov.append("line").attr("x1", 116.7).attr("x2", 133.3).attr("y1", 750).attr("y2", 750).attr("stroke", D_BLUE).attr("stroke-width", 2);
T(139, 750, "Unaltered (617/114)", {size: 7.4, color: "#333"});
T(83, 851, "n=667", {font: LATO, size: 11});
{
  const t = T(83, 863.5, null, {font: LATO, size: 11});
  t.append("tspan").attr("font-style", "italic").text("P");
  sup(t, " = 9.3x10", "-3", 11);
}

// panel E texts
T(360.5, 725, "cg13726218", {size: 12.5, anchor: "middle"});
T(255, 806, "RSEM DACH1", {size: 12.5, anchor: "middle", rotate: true});
T(368, 904.3, "DNA Methylation Beta", {size: 12.8, anchor: "middle"});
sup(T(432.7, 745.5, null, {size: 10.5, anchor: "end"}), "FDR=7.6x10", "-14", 10.5);
T(432.7, 758.8, "Spearman", {size: 10.5, anchor: "end"});
T(432.7, 771.3, "correlation", {size: 10.5, anchor: "end"});

// panel F texts
T(490, 800, "Proportion without BCR", {size: 13, anchor: "middle", rotate: true});
T(596, 902.3, "Time (months)", {size: 13, anchor: "middle"});
T(659.3, 739.5, "z-score < -1.25", {size: 10.5, anchor: "end"});
sup(T(659.3, 752, null, {size: 10.5, anchor: "end"}), "p = 4.7x10", "-4", 10.5);
ov.append("line").attr("x1", 534).attr("x2", 555).attr("y1", 855).attr("y2", 855).attr("stroke", F_RED).attr("stroke-width", 3);
T(559, 855, "DACH1 z < \u22121.25 (75/13)", {size: 8, color: "#333"});
ov.append("line").attr("x1", 534).attr("x2", 555).attr("y1", 864).attr("y2", 864).attr("stroke", F_BLUE).attr("stroke-width", 3);
T(559, 864, "DACH1 high (4/3)", {size: 8, color: "#333"});
</script></body></html>
